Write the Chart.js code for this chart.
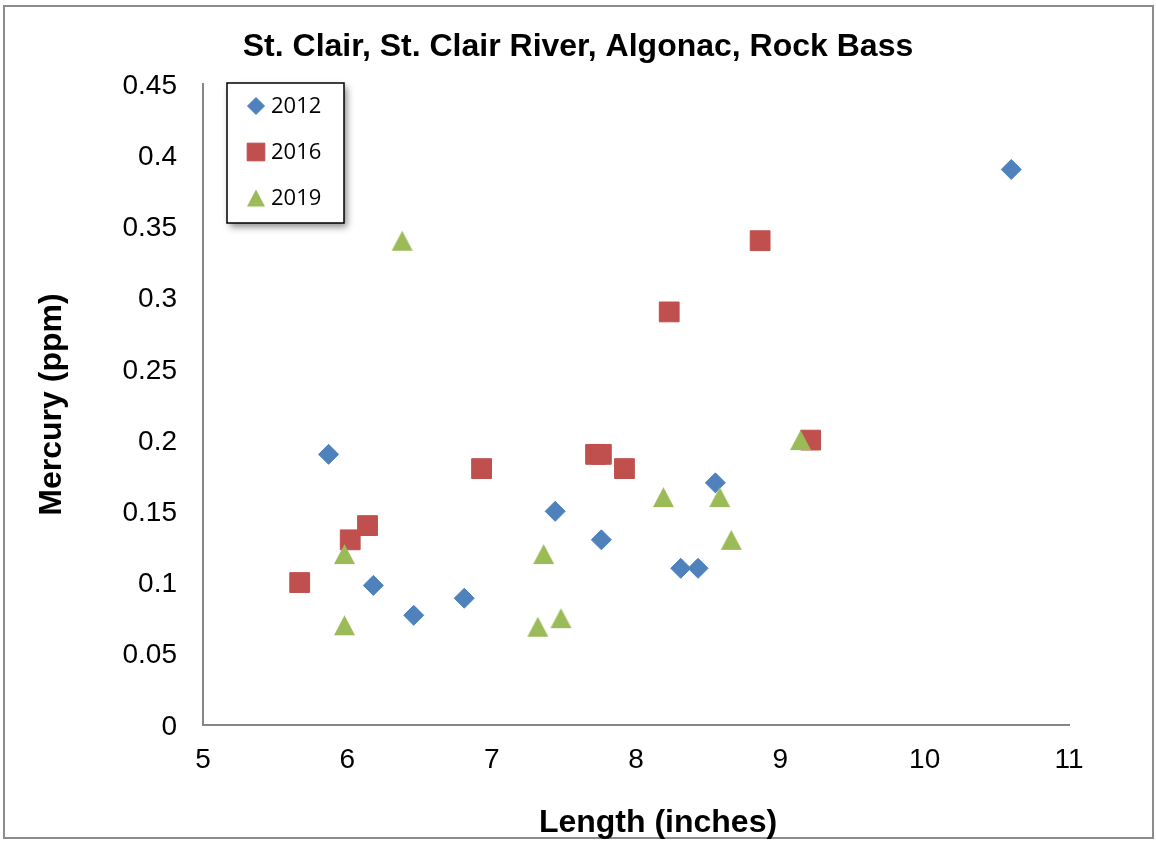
<!DOCTYPE html>
<html>
<head>
<meta charset="utf-8">
<script src="https://cdn.jsdelivr.net/npm/chart.js@4/dist/chart.umd.min.js"></script>
<style>
  html, body { margin: 0; padding: 0; background: #fff; }
  #wrap { position: relative; width: 1156px; height: 842px; }
</style>
</head>
<body>
<div id="wrap"><canvas id="c" width="1156" height="842"></canvas></div>
<script>
// ---- data ----
const seriesNames = ['2012', '2016', '2019'];
const len2012 = [5.87, 6.18, 6.46, 6.81, 7.44, 7.76, 8.31, 8.43, 8.55, 10.6];
const hg2012  = [0.19, 0.098, 0.077, 0.089, 0.15, 0.13, 0.11, 0.11, 0.17, 0.39];
const len2016 = [5.67, 6.02, 6.14, 6.93, 7.72, 7.76, 7.92, 8.23, 8.86, 9.21];
const hg2016  = [0.10, 0.13, 0.14, 0.18, 0.19, 0.19, 0.18, 0.29, 0.34, 0.20];
const len2019 = [5.98, 5.98, 6.38, 7.32, 7.36, 7.48, 8.19, 8.58, 8.66, 9.14];
const hg2019  = [0.07, 0.12, 0.34, 0.069, 0.12, 0.075, 0.16, 0.16, 0.13, 0.20];
const xTicks = [5, 6, 7, 8, 9, 10, 11];
const yTicks = [0, 0.05, 0.1, 0.15, 0.2, 0.25, 0.3, 0.35, 0.4, 0.45];
const chartTitle = 'St. Clair, St. Clair River, Algonac, Rock Bass';
const xTitle = 'Length (inches)';
const yTitle = 'Mercury (ppm)';

const pts = (xs, ys) => xs.map((x, i) => ({ x: x, y: ys[i] }));

const AXIS = '#868686';
const FONT = "'Liberation Sans', Arial, sans-serif";
const BLUE = '#4F81BD', RED = '#C0504D', GREEN = '#9BBB59';

// triangle marker centred on its bounding box (Excel style)
function triangleImage(w, h, color) {
  const cv = document.createElement('canvas');
  cv.width = w + 2; cv.height = h + 2;
  const g = cv.getContext('2d');
  g.fillStyle = color;
  g.beginPath();
  g.moveTo(1 + w / 2, 1);
  g.lineTo(1 + w, 1 + h);
  g.lineTo(1, 1 + h);
  g.closePath();
  g.fill();
  return cv;
}
const triMarker = triangleImage(21, 20, GREEN);
const triLegend = triangleImage(18, 17, GREEN);

const frame = {
  id: 'frame',
  beforeDraw(chart) {
    const ctx = chart.ctx;
    ctx.save();
    ctx.fillStyle = '#fff';
    ctx.fillRect(0, 0, chart.width, chart.height);
    ctx.strokeStyle = '#8c8c8c';
    ctx.lineWidth = 2;
    ctx.strokeRect(4, 6, 1149, 832);
    ctx.restore();
  }
};

const centerTitle = {
  id: 'centerTitle',
  afterLayout(chart) {
    if (chart.titleBlock) {
      chart.titleBlock.left = 0;
      chart.titleBlock.right = chart.width;
      chart.titleBlock.width = chart.width;
    }
  },
  afterDraw(chart) {
    const ctx = chart.ctx;
    ctx.save();
    ctx.font = "bold 32px " + FONT;
    ctx.fillStyle = '#000';
    ctx.textAlign = 'center';
    ctx.textBaseline = 'middle';
    ctx.fillText(xTitle, 658, 823);
    ctx.restore();
  }
};

const boxLegend = {
  id: 'boxLegend',
  afterDraw(chart) {
    const ctx = chart.ctx;
    const x0 = 227, y0 = 83, w = 117, h = 140;
    ctx.save();
    ctx.shadowColor = 'rgba(0,0,0,0.45)';
    ctx.shadowBlur = 7;
    ctx.shadowOffsetX = 3;
    ctx.shadowOffsetY = 4;
    ctx.fillStyle = '#fff';
    ctx.fillRect(x0, y0, w, h);
    ctx.restore();
    ctx.save();
    ctx.strokeStyle = '#000';
    ctx.lineWidth = 1.5;
    ctx.strokeRect(x0, y0, w, h);
    ctx.font = "22px 'Open Sans', 'Liberation Sans', sans-serif";
    ctx.textBaseline = 'middle';
    ctx.textAlign = 'left';
    chart.data.datasets.forEach((ds, i) => {
      const cy = 106 + i * 46;
      const cx = 256;
      ctx.fillStyle = ds.backgroundColor;
      ctx.strokeStyle = ds.borderColor;
      ctx.lineWidth = 1;
      const ps = ds.legendStyle || ds.pointStyle;
      Chart.helpers.drawPoint(ctx, { pointStyle: ps, radius: ds.legendRadius, rotation: 0, borderWidth: 1 }, cx, cy);
      ctx.fillStyle = '#000';
      ctx.fillText(ds.label, 271, cy + 1);
    });
    ctx.restore();
  }
};

new Chart(document.getElementById('c'), {
  type: 'scatter',
  data: {
    datasets: [
      { label: seriesNames[0], data: pts(len2012, hg2012), pointStyle: 'rectRot', pointRadius: 10, legendRadius: 8.5,
        backgroundColor: BLUE, borderColor: BLUE, borderWidth: 1, order: 3 },
      { label: seriesNames[1], data: pts(len2016, hg2016), pointStyle: 'rect', pointRadius: 14, legendRadius: 12.5,
        backgroundColor: RED, borderColor: RED, borderWidth: 1, order: 2 },
      { label: seriesNames[2], data: pts(len2019, hg2019), pointStyle: triMarker, legendStyle: triLegend, pointRadius: 12, legendRadius: 10,
        backgroundColor: GREEN, borderColor: GREEN, borderWidth: 1, order: 1 }
    ]
  },
  options: {
    responsive: false,
    animation: false,
    events: [],
    layout: { padding: { left: 0, right: 87, top: 0, bottom: 0 } },
    plugins: {
      legend: { display: false },
      tooltip: { enabled: false },
      title: {
        display: true,
        text: chartTitle,
        color: '#000',
        font: { family: FONT, size: 32, weight: 'bold', lineHeight: 1.2 },
        padding: { top: 28, bottom: 17.6 }
      }
    },
    scales: {
      x: {
        type: 'linear',
        min: 5, max: 11,
        afterBuildTicks(s) { s.ticks = xTicks.map(v => ({ value: v })); },
        afterFit(s) { s.height = 117; },
        grid: { display: false, drawOnChartArea: false, drawTicks: true, tickLength: 8, tickColor: AXIS, tickWidth: 2 },
        border: { display: true, color: AXIS, width: 2 },
        ticks: { color: '#000', font: { family: FONT, size: 28 }, padding: 10, callback: v => String(v) },
        title: { display: false }
      },
      y: {
        type: 'linear',
        min: 0, max: 0.45,
        afterBuildTicks(s) { s.ticks = yTicks.map(v => ({ value: v })); },
        afterFit(s) { s.width = 203; },
        grid: { display: false, drawOnChartArea: false, drawTicks: true, tickLength: 7, tickColor: AXIS, tickWidth: 2 },
        border: { display: true, color: AXIS, width: 2 },
        ticks: { color: '#000', font: { family: FONT, size: 28 }, padding: 19, labelOffset: 2,
                 callback: v => String(Math.round(v * 100) / 100) },
        title: {
          display: true, text: yTitle, color: '#000',
          font: { family: FONT, size: 32, weight: 'bold', lineHeight: 1.2 },
          padding: { top: 33, bottom: 0 }
        }
      }
    }
  },
  plugins: [frame, centerTitle, boxLegend]
});
</script>
</body>
</html>
